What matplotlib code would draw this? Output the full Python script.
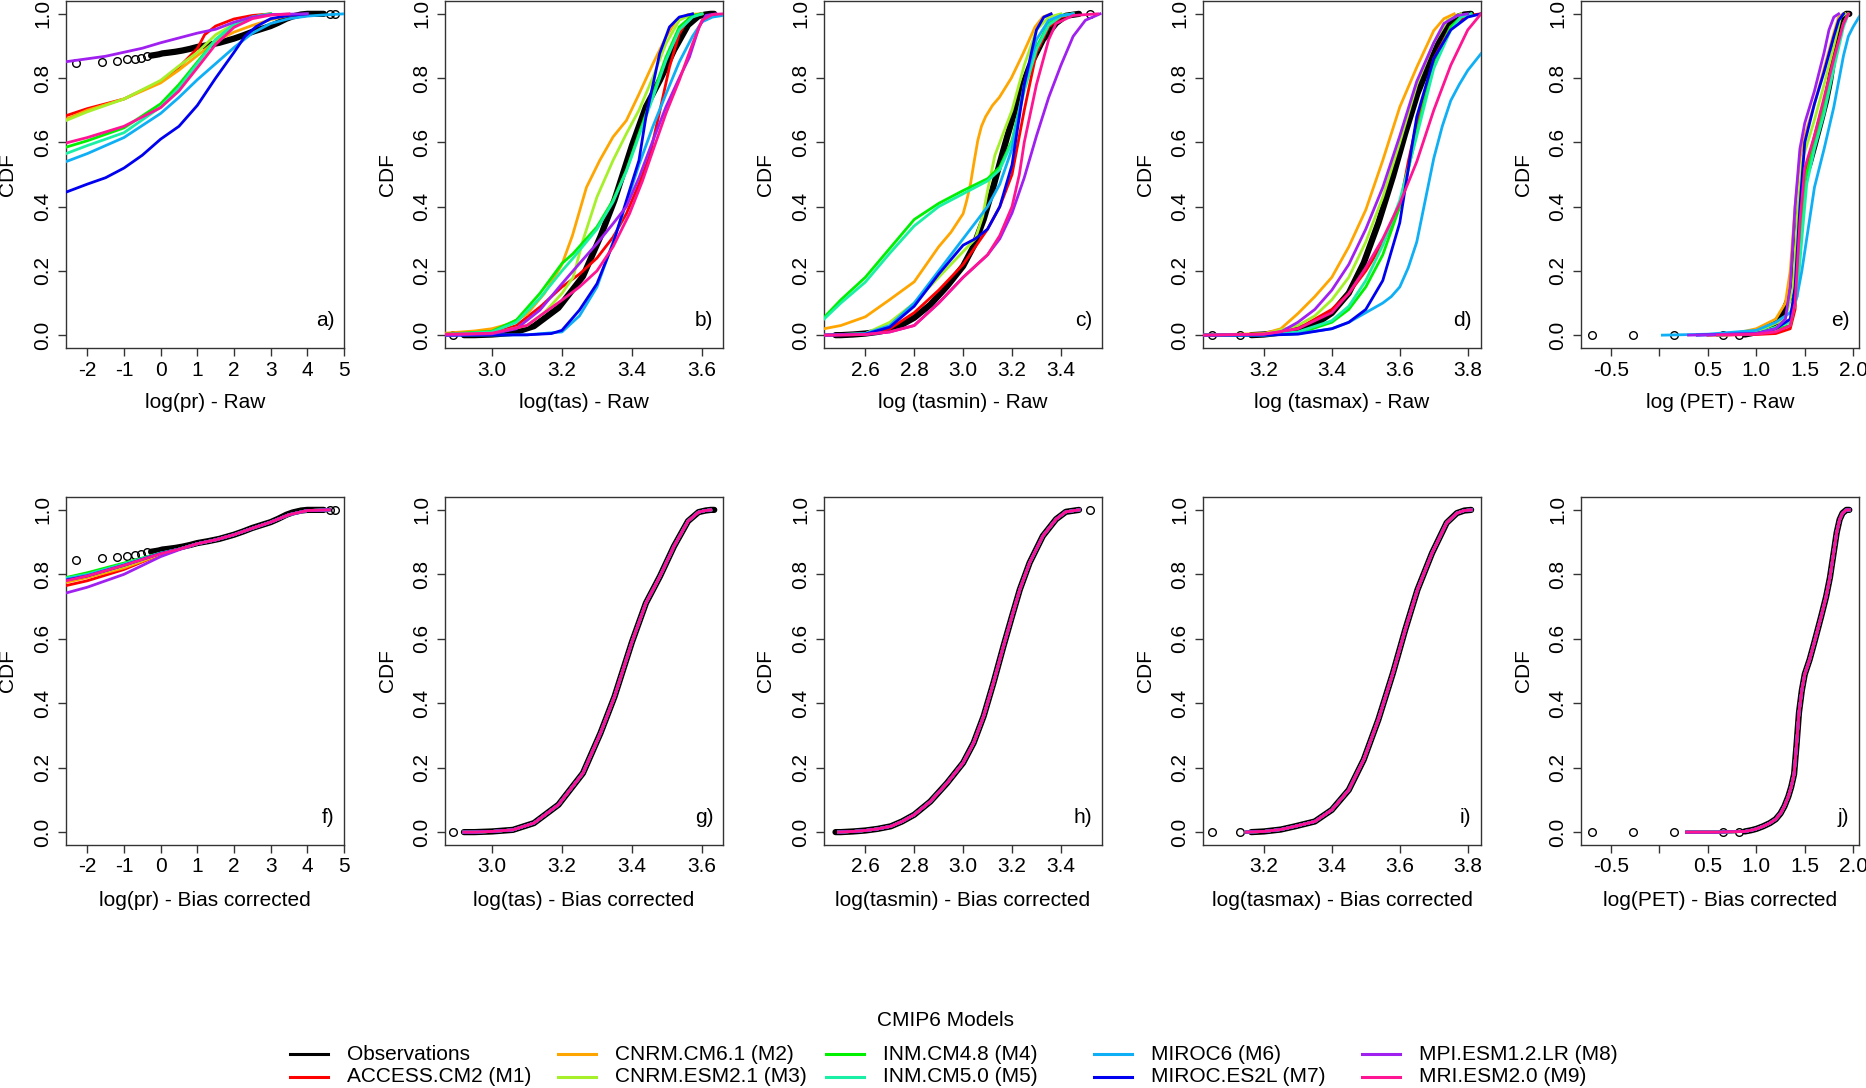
import matplotlib
matplotlib.use("Agg")
import matplotlib.pyplot as plt
from matplotlib.lines import Line2D

plt.rcParams['font.family'] = ['Liberation Sans', 'DejaVu Sans']
plt.rcParams['axes.unicode_minus'] = False

# ---------------- data ----------------
codes = ["M1", "M2", "M3", "M4", "M5", "M6", "M7", "M8", "M9"]
model_names = ["ACCESS.CM2 (M1)", "CNRM.CM6.1 (M2)", "CNRM.ESM2.1 (M3)", "INM.CM4.8 (M4)",
               "INM.CM5.0 (M5)", "MIROC6 (M6)", "MIROC.ES2L (M7)", "MPI.ESM1.2.LR (M8)",
               "MRI.ESM2.0 (M9)"]
obs_name = "Observations"

# Observations (isolated circles, and the dense part of the empirical CDF)
obs_pr_tail_x = [-2.3, -1.6, -1.2, -0.91, -0.7, -0.53, -0.38, 4.62, 4.75]
obs_pr_tail_y = [0.846, 0.851, 0.854, 0.858, 0.861, 0.864, 0.868, 1.0, 1.0]
obs_pr_x = [-0.26, -0.15, -0.05, 0.05, 0.2, 0.4, 0.6, 0.8, 1.0, 1.3, 1.6, 2.0, 2.25, 2.5,
            2.75, 3.0, 3.2, 3.43, 3.6, 3.83, 4.0, 4.2, 4.45]
obs_pr_y = [0.870, 0.872, 0.874, 0.877, 0.879, 0.882, 0.886, 0.891, 0.897, 0.903, 0.91, 0.923,
            0.933, 0.944, 0.953, 0.962, 0.972, 0.985, 0.992, 0.998, 1.0, 1.0, 1.0]

obs_tas_tail_x = [2.89]
obs_tas_tail_y = [0.0]
obs_tas_x = [2.92, 2.95, 3.0, 3.06, 3.12, 3.19, 3.26, 3.31, 3.35, 3.40, 3.44, 3.48, 3.52,
             3.56, 3.59, 3.61, 3.625, 3.635]
obs_tas_y = [0.0, 0.0, 0.002, 0.007, 0.028, 0.085, 0.183, 0.307, 0.42, 0.59, 0.711, 0.794,
             0.887, 0.965, 0.993, 0.998, 1.0, 1.0]

obs_tasmin_tail_x = [3.52]
obs_tasmin_tail_y = [1.0]
obs_tasmin_x = [2.478, 2.5, 2.55, 2.6, 2.65, 2.704, 2.75, 2.8, 2.866, 2.934, 3.0, 3.043, 3.084,
                3.124, 3.165, 3.2, 3.232, 3.272, 3.326, 3.38, 3.42, 3.474]
obs_tasmin_y = [0.0, 0.0, 0.002, 0.005, 0.01, 0.018, 0.033, 0.054, 0.095, 0.152, 0.215, 0.277,
                0.36, 0.463, 0.577, 0.67, 0.753, 0.836, 0.919, 0.971, 0.994, 1.0]

obs_tasmax_tail_x = [3.047, 3.13]
obs_tasmax_tail_y = [0.0, 0.0]
obs_tasmax_x = [3.163, 3.2, 3.25, 3.292, 3.35, 3.4, 3.45, 3.494, 3.537, 3.58, 3.616, 3.652,
                3.695, 3.738, 3.768, 3.79, 3.81]
obs_tasmax_y = [0.0, 0.002, 0.008, 0.018, 0.033, 0.069, 0.131, 0.225, 0.349, 0.494, 0.628,
                0.752, 0.866, 0.96, 0.99, 0.998, 1.0]

obs_pet_tail_x = [-0.70, -0.27, 0.15, 0.66, 0.82]
obs_pet_tail_y = [0.0, 0.0, 0.0, 0.0, 0.0]
obs_pet_x = [0.88, 0.95, 1.0, 1.07, 1.14, 1.2, 1.25, 1.29, 1.33, 1.36, 1.39, 1.415, 1.44, 1.47,
             1.5, 1.55, 1.6, 1.67, 1.72, 1.76, 1.8, 1.83, 1.86, 1.89, 1.93, 1.96]
obs_pet_y = [0.002, 0.006, 0.01, 0.018, 0.028, 0.04, 0.058, 0.08, 0.11, 0.14, 0.18, 0.27, 0.37,
             0.44, 0.49, 0.535, 0.59, 0.67, 0.73, 0.79, 0.87, 0.93, 0.97, 0.99, 1.0, 1.0]

# Raw model CDFs
pr_raw = {
    "M1": ([-2.58, -2, -1, 0, 0.5, 1, 1.2, 1.5, 2, 2.5, 3],
           [0.683, 0.705, 0.735, 0.79, 0.834, 0.892, 0.935, 0.962, 0.984, 0.995, 1.0]),
    "M2": ([-2.58, -2, -1, 0, 0.5, 1, 1.5, 2, 2.5, 3, 3.5, 4],
           [0.672, 0.70, 0.735, 0.785, 0.825, 0.87, 0.915, 0.943, 0.964, 0.982, 0.995, 1.0]),
    "M3": ([-2.58, -2, -1, 0, 0.5, 1, 1.5, 2, 2.5, 3],
           [0.668, 0.695, 0.735, 0.793, 0.838, 0.88, 0.935, 0.968, 0.99, 1.0]),
    "M4": ([-2.58, -2, -1, 0, 0.5, 1, 1.5, 2, 2.5, 3],
           [0.585, 0.605, 0.645, 0.72, 0.78, 0.85, 0.92, 0.965, 0.99, 1.0]),
    "M5": ([-2.58, -2, -1, 0, 0.5, 1, 1.5, 2, 2.5, 3],
           [0.565, 0.59, 0.63, 0.71, 0.77, 0.845, 0.92, 0.968, 0.99, 1.0]),
    "M6": ([-2.58, -2, -1, 0, 0.5, 1, 1.5, 2, 2.5, 3, 3.5, 4, 4.5, 5.0],
           [0.54, 0.565, 0.615, 0.69, 0.74, 0.795, 0.845, 0.895, 0.94, 0.97, 0.985, 0.993, 0.997, 1.0]),
    "M7": ([-2.58, -2, -1.5, -1, -0.5, 0, 0.5, 1, 1.5, 2, 2.3, 2.6, 3, 3.5, 4],
           [0.445, 0.47, 0.49, 0.52, 0.56, 0.61, 0.65, 0.715, 0.8, 0.88, 0.93, 0.96, 0.985, 0.995, 1.0]),
    "M8": ([-2.58, -1.5, -0.5, 0, 0.5, 1, 1.5, 2, 2.5, 3, 4],
           [0.851, 0.868, 0.893, 0.91, 0.925, 0.94, 0.952, 0.974, 0.99, 0.998, 1.0]),
    "M9": ([-2.58, -2, -1, 0, 0.5, 1, 1.5, 2, 2.5, 3, 3.5],
           [0.598, 0.615, 0.65, 0.708, 0.76, 0.832, 0.905, 0.958, 0.985, 0.996, 1.0]),
}

tas_raw = {
    "M1": ([2.866, 3.0, 3.07, 3.14, 3.2, 3.25, 3.3, 3.346, 3.384, 3.42, 3.45, 3.48, 3.507, 3.535, 3.564, 3.6],
           [0.0, 0.005, 0.03, 0.09, 0.15, 0.19, 0.24, 0.305, 0.378, 0.47, 0.555, 0.70, 0.834, 0.938, 0.99, 1.0]),
    "M2": ([2.866, 2.95, 3.0, 3.05, 3.1, 3.15, 3.2, 3.23, 3.27, 3.308, 3.346, 3.384, 3.42, 3.46, 3.497, 3.526, 3.56, 3.6],
           [0.006, 0.013, 0.02, 0.035, 0.065, 0.13, 0.22, 0.31, 0.46, 0.544, 0.617, 0.668, 0.75, 0.845, 0.927, 0.98, 0.998, 1.0]),
    "M3": ([2.866, 3.0, 3.1, 3.15, 3.2, 3.232, 3.26, 3.3, 3.346, 3.384, 3.42, 3.46, 3.497, 3.535, 3.573],
           [0.0, 0.005, 0.03, 0.07, 0.13, 0.18, 0.295, 0.43, 0.544, 0.627, 0.70, 0.803, 0.907, 0.98, 1.0]),
    "M4": ([2.866, 3.0, 3.07, 3.137, 3.2, 3.232, 3.3, 3.346, 3.384, 3.42, 3.46, 3.497, 3.535, 3.573, 3.6],
           [0.003, 0.012, 0.047, 0.13, 0.223, 0.254, 0.337, 0.42, 0.513, 0.627, 0.75, 0.865, 0.959, 0.995, 1.0]),
    "M5": ([2.866, 3.0, 3.07, 3.137, 3.2, 3.232, 3.3, 3.346, 3.384, 3.42, 3.46, 3.497, 3.535, 3.573, 3.6],
           [0.002, 0.01, 0.04, 0.115, 0.2, 0.24, 0.33, 0.415, 0.51, 0.62, 0.74, 0.855, 0.95, 0.99, 1.0]),
    "M6": ([2.866, 3.1, 3.2, 3.25, 3.3, 3.346, 3.384, 3.42, 3.46, 3.497, 3.535, 3.573, 3.6, 3.63, 3.66],
           [0.0, 0.001, 0.01, 0.06, 0.15, 0.29, 0.41, 0.53, 0.65, 0.75, 0.85, 0.93, 0.975, 0.99, 0.995]),
    "M7": ([2.866, 3.1, 3.17, 3.2, 3.25, 3.3, 3.346, 3.393, 3.42, 3.44, 3.46, 3.479, 3.507, 3.535, 3.573],
           [0.0, 0.001, 0.005, 0.015, 0.078, 0.16, 0.285, 0.45, 0.544, 0.68, 0.78, 0.876, 0.959, 0.99, 1.0]),
    "M8": ([2.866, 3.0, 3.07, 3.137, 3.2, 3.25, 3.3, 3.346, 3.384, 3.42, 3.46, 3.497, 3.535, 3.564, 3.592, 3.611, 3.64],
           [0.0, 0.004, 0.02, 0.078, 0.16, 0.223, 0.285, 0.347, 0.4, 0.49, 0.606, 0.71, 0.80, 0.865, 0.96, 0.995, 1.0]),
    "M9": ([2.866, 3.0, 3.1, 3.15, 3.2, 3.25, 3.3, 3.346, 3.393, 3.43, 3.46, 3.497, 3.535, 3.573, 3.6, 3.63, 3.66],
           [0.003, 0.006, 0.03, 0.07, 0.109, 0.15, 0.2, 0.275, 0.378, 0.48, 0.575, 0.69, 0.793, 0.907, 0.98, 0.998, 1.0]),
}

tasmin_raw = {
    "M1": ([2.431, 2.6, 2.7, 2.8, 2.9, 3.0, 3.1, 3.15, 3.2, 3.25, 3.3, 3.35, 3.4, 3.45],
           [0.0, 0.002, 0.02, 0.07, 0.14, 0.22, 0.33, 0.40, 0.50, 0.70, 0.88, 0.96, 0.99, 1.0]),
    "M2": ([2.431, 2.5, 2.6, 2.697, 2.8, 2.9, 2.95, 3.0, 3.015, 3.03, 3.045, 3.06, 3.075, 3.092, 3.12,
            3.148, 3.197, 3.245, 3.294, 3.326, 3.358],
           [0.02, 0.03, 0.057, 0.109, 0.166, 0.275, 0.32, 0.378, 0.42, 0.47, 0.54, 0.606, 0.65, 0.68, 0.715,
            0.74, 0.80, 0.876, 0.959, 0.99, 1.0]),
    "M3": ([2.431, 2.6, 2.7, 2.8, 2.9, 3.0, 3.05, 3.08, 3.1, 3.13, 3.17, 3.2, 3.25, 3.3, 3.35, 3.4],
           [0.0, 0.005, 0.04, 0.1, 0.18, 0.26, 0.30, 0.37, 0.45, 0.56, 0.64, 0.70, 0.84, 0.95, 0.99, 1.0]),
    "M4": ([2.431, 2.5, 2.6, 2.7, 2.8, 2.9, 3.0, 3.1, 3.15, 3.2, 3.25, 3.3, 3.35, 3.4, 3.45],
           [0.055, 0.11, 0.18, 0.27, 0.36, 0.41, 0.45, 0.487, 0.523, 0.606, 0.77, 0.896, 0.97, 0.995, 1.0]),
    "M5": ([2.431, 2.5, 2.6, 2.7, 2.8, 2.9, 3.0, 3.1, 3.15, 3.2, 3.25, 3.3, 3.35, 3.4, 3.45],
           [0.05, 0.10, 0.165, 0.255, 0.34, 0.40, 0.44, 0.48, 0.515, 0.60, 0.76, 0.89, 0.965, 0.993, 1.0]),
    "M6": ([2.431, 2.6, 2.7, 2.8, 2.9, 3.0, 3.1, 3.15, 3.2, 3.25, 3.3, 3.35, 3.4, 3.45],
           [0.0, 0.005, 0.03, 0.1, 0.2, 0.30, 0.40, 0.47, 0.58, 0.78, 0.92, 0.98, 0.995, 1.0]),
    "M7": ([2.431, 2.6, 2.7, 2.8, 2.9, 3.0, 3.05, 3.1, 3.15, 3.2, 3.25, 3.3, 3.33, 3.36],
           [0.0, 0.003, 0.025, 0.09, 0.19, 0.28, 0.30, 0.33, 0.40, 0.53, 0.78, 0.95, 0.99, 1.0]),
    "M8": ([2.431, 2.6, 2.7, 2.8, 2.9, 3.0, 3.1, 3.15, 3.2, 3.25, 3.3, 3.35, 3.4, 3.45, 3.5, 3.56],
           [0.0, 0.002, 0.01, 0.03, 0.1, 0.18, 0.25, 0.30, 0.38, 0.49, 0.62, 0.74, 0.84, 0.93, 0.98, 1.0]),
    "M9": ([2.431, 2.6, 2.7, 2.8, 2.9, 3.0, 3.1, 3.15, 3.2, 3.23, 3.25, 3.3, 3.35, 3.38, 3.45, 3.55],
           [0.0, 0.002, 0.01, 0.03, 0.1, 0.18, 0.25, 0.31, 0.40, 0.50, 0.60, 0.78, 0.92, 0.97, 0.995, 1.0]),
}

tasmax_raw = {
    "M1": ([3.021, 3.2, 3.3, 3.4, 3.45, 3.5, 3.55, 3.6, 3.625, 3.65, 3.7, 3.75, 3.8, 3.839],
           [0.0, 0.003, 0.02, 0.08, 0.13, 0.2, 0.285, 0.40, 0.54, 0.66, 0.86, 0.96, 0.995, 1.0]),
    "M2": ([3.021, 3.2, 3.25, 3.3, 3.35, 3.4, 3.45, 3.5, 3.55, 3.6, 3.65, 3.7, 3.73, 3.76],
           [0.0, 0.005, 0.02, 0.067, 0.12, 0.18, 0.275, 0.39, 0.544, 0.71, 0.834, 0.948, 0.985, 1.0]),
    "M3": ([3.021, 3.2, 3.3, 3.35, 3.4, 3.45, 3.5, 3.55, 3.6, 3.65, 3.7, 3.74, 3.78],
           [0.0, 0.003, 0.03, 0.06, 0.11, 0.18, 0.29, 0.43, 0.60, 0.78, 0.91, 0.98, 1.0]),
    "M4": ([3.021, 3.2, 3.3, 3.4, 3.45, 3.5, 3.55, 3.6, 3.65, 3.7, 3.75, 3.78, 3.81],
           [0.0, 0.0, 0.005, 0.04, 0.08, 0.15, 0.25, 0.40, 0.63, 0.85, 0.96, 0.99, 1.0]),
    "M5": ([3.021, 3.2, 3.3, 3.4, 3.45, 3.5, 3.55, 3.6, 3.65, 3.7, 3.75, 3.78, 3.81],
           [0.0, 0.001, 0.01, 0.045, 0.09, 0.17, 0.28, 0.42, 0.62, 0.83, 0.95, 0.99, 1.0]),
    "M6": ([3.021, 3.2, 3.3, 3.4, 3.45, 3.5, 3.55, 3.575, 3.6, 3.625, 3.65, 3.675, 3.7, 3.725, 3.75,
            3.775, 3.8, 3.839],
           [0.0, 0.0, 0.005, 0.02, 0.04, 0.07, 0.10, 0.12, 0.15, 0.21, 0.29, 0.42, 0.55, 0.65, 0.73,
            0.78, 0.824, 0.876]),
    "M7": ([3.021, 3.2, 3.3, 3.4, 3.45, 3.5, 3.55, 3.6, 3.63, 3.65, 3.7, 3.75, 3.8, 3.839],
           [0.0, 0.0, 0.003, 0.02, 0.04, 0.08, 0.17, 0.35, 0.55, 0.68, 0.86, 0.95, 0.99, 1.0]),
    "M8": ([3.021, 3.2, 3.25, 3.3, 3.35, 3.4, 3.45, 3.5, 3.55, 3.6, 3.65, 3.7, 3.73, 3.77, 3.8],
           [0.0, 0.003, 0.01, 0.04, 0.08, 0.14, 0.22, 0.33, 0.46, 0.62, 0.79, 0.91, 0.97, 0.995, 1.0]),
    "M9": ([3.021, 3.2, 3.3, 3.4, 3.45, 3.5, 3.55, 3.6, 3.65, 3.7, 3.75, 3.8, 3.839],
           [0.0, 0.003, 0.02, 0.07, 0.13, 0.21, 0.30, 0.41, 0.54, 0.70, 0.84, 0.95, 1.0]),
}

pet_raw = {
    "M1": ([0.5, 1.0, 1.2, 1.35, 1.4, 1.45, 1.5, 1.6, 1.7, 1.8, 1.9, 1.95],
           [0.0, 0.002, 0.005, 0.02, 0.08, 0.3, 0.5, 0.62, 0.73, 0.86, 0.97, 1.0]),
    "M2": ([0.7, 1.0, 1.2, 1.3, 1.35, 1.4, 1.45, 1.5, 1.6, 1.7, 1.8, 1.85, 1.9],
           [0.0, 0.02, 0.05, 0.1, 0.2, 0.4, 0.55, 0.62, 0.72, 0.83, 0.94, 0.99, 1.0]),
    "M3": ([0.6, 1.0, 1.3, 1.38, 1.43, 1.48, 1.6, 1.7, 1.8, 1.87, 1.92],
           [0.0, 0.01, 0.05, 0.15, 0.4, 0.55, 0.67, 0.78, 0.9, 0.99, 1.0]),
    "M4": ([0.6, 1.0, 1.35, 1.4, 1.45, 1.5, 1.6, 1.7, 1.8, 1.9, 1.95],
           [0.0, 0.005, 0.03, 0.1, 0.3, 0.48, 0.6, 0.72, 0.85, 0.97, 1.0]),
    "M5": ([0.6, 1.0, 1.35, 1.42, 1.47, 1.52, 1.6, 1.7, 1.8, 1.9, 1.95],
           [0.0, 0.005, 0.04, 0.12, 0.3, 0.47, 0.58, 0.69, 0.83, 0.96, 1.0]),
    "M6": ([0.03, 0.5, 1.0, 1.2, 1.35, 1.42, 1.47, 1.53, 1.6, 1.7, 1.8, 1.9, 1.95, 2.0, 2.06],
           [0.0, 0.003, 0.015, 0.04, 0.07, 0.12, 0.2, 0.32, 0.46, 0.58, 0.71, 0.87, 0.93, 0.96, 0.99]),
    "M7": ([0.39, 1.0, 1.2, 1.35, 1.4, 1.45, 1.5, 1.6, 1.7, 1.8, 1.85, 1.9],
           [0.0, 0.005, 0.02, 0.05, 0.15, 0.4, 0.6, 0.72, 0.82, 0.93, 0.98, 1.0]),
    "M8": ([0.3, 1.0, 1.2, 1.3, 1.35, 1.4, 1.45, 1.5, 1.6, 1.7, 1.75, 1.8, 1.85],
           [0.0, 0.005, 0.02, 0.05, 0.15, 0.4, 0.58, 0.66, 0.76, 0.88, 0.95, 0.99, 1.0]),
    "M9": ([0.6, 1.0, 1.2, 1.35, 1.4, 1.45, 1.5, 1.6, 1.7, 1.8, 1.9, 1.95],
           [0.0, 0.003, 0.01, 0.03, 0.1, 0.35, 0.52, 0.62, 0.74, 0.86, 0.97, 1.0]),
}

# Bias corrected model CDFs
pr_bc_x = [-2.58, -2, -1, 0, 0.5, 1, 1.5, 2, 2.5, 3, 3.5, 4, 4.6]
pr_bc = {
    "M1": [0.765, 0.78, 0.815, 0.862, 0.878, 0.895, 0.907, 0.923, 0.943, 0.962, 0.985, 0.998, 1.0],
    "M2": [0.775, 0.79, 0.82, 0.862, 0.878, 0.895, 0.907, 0.923, 0.943, 0.962, 0.985, 0.998, 1.0],
    "M3": [0.78, 0.795, 0.825, 0.864, 0.878, 0.895, 0.907, 0.923, 0.943, 0.962, 0.985, 0.998, 1.0],
    "M4": [0.79, 0.805, 0.835, 0.866, 0.878, 0.895, 0.907, 0.923, 0.943, 0.962, 0.985, 0.998, 1.0],
    "M5": [0.788, 0.80, 0.832, 0.866, 0.878, 0.895, 0.907, 0.923, 0.943, 0.962, 0.985, 0.998, 1.0],
    "M6": [0.785, 0.798, 0.83, 0.865, 0.878, 0.895, 0.907, 0.923, 0.943, 0.962, 0.985, 0.998, 1.0],
    "M7": [0.782, 0.795, 0.828, 0.865, 0.878, 0.895, 0.907, 0.923, 0.943, 0.962, 0.985, 0.998, 1.0],
    "M8": [0.742, 0.76, 0.80, 0.855, 0.876, 0.895, 0.907, 0.923, 0.943, 0.962, 0.985, 0.998, 1.0],
    "M9": [0.78, 0.795, 0.828, 0.864, 0.878, 0.895, 0.907, 0.923, 0.943, 0.962, 0.985, 0.998, 1.0],
}
# after bias correction all models coincide for these variables
tas_bc_x = [2.92, 2.95, 3.0, 3.06, 3.12, 3.19, 3.26, 3.31, 3.35, 3.40, 3.44, 3.48, 3.52, 3.56, 3.59, 3.61, 3.625]
tas_bc_y = [0.0, 0.0, 0.002, 0.007, 0.028, 0.085, 0.183, 0.307, 0.42, 0.59, 0.711, 0.794, 0.887, 0.965, 0.993, 0.998, 1.0]
tasmin_bc_x = [2.49, 2.55, 2.6, 2.65, 2.704, 2.75, 2.8, 2.866, 2.934, 3.0, 3.043, 3.084, 3.124, 3.165, 3.2,
               3.232, 3.272, 3.326, 3.38, 3.42, 3.474]
tasmin_bc_y = [0.0, 0.002, 0.005, 0.01, 0.018, 0.033, 0.054, 0.095, 0.152, 0.215, 0.277, 0.36, 0.463, 0.577,
               0.67, 0.753, 0.836, 0.919, 0.971, 0.994, 1.0]
tasmax_bc_x = [3.148, 3.2, 3.25, 3.292, 3.35, 3.4, 3.45, 3.494, 3.537, 3.58, 3.616, 3.652, 3.695, 3.738,
               3.768, 3.79, 3.81]
tasmax_bc_y = [0.0, 0.002, 0.008, 0.018, 0.033, 0.069, 0.131, 0.225, 0.349, 0.494, 0.628, 0.752, 0.866,
               0.96, 0.99, 0.998, 1.0]
pet_bc_x = [0.28, 0.6, 0.88, 0.95, 1.0, 1.07, 1.14, 1.2, 1.25, 1.29, 1.33, 1.36, 1.39, 1.415, 1.44, 1.47,
            1.5, 1.55, 1.6, 1.67, 1.72, 1.76, 1.8, 1.83, 1.86, 1.89, 1.93, 1.96]
pet_bc_y = [0.0, 0.0, 0.002, 0.006, 0.01, 0.018, 0.028, 0.04, 0.058, 0.08, 0.11, 0.14, 0.18, 0.27, 0.37,
            0.44, 0.49, 0.535, 0.59, 0.67, 0.73, 0.79, 0.87, 0.93, 0.97, 0.99, 1.0, 1.0]

y_ticks = [0.0, 0.2, 0.4, 0.6, 0.8, 1.0]
pr_ticks = [-2, -1, 0, 1, 2, 3, 4, 5]
tas_ticks = [3.0, 3.2, 3.4, 3.6]
tasmin_ticks = [2.6, 2.8, 3.0, 3.2, 3.4]
tasmax_ticks = [3.2, 3.4, 3.6, 3.8]
pet_ticks = [-0.5, 0.0, 0.5, 1.0, 1.5, 2.0]
pet_tick_labels = ["-0.5", "", "0.5", "1.0", "1.5", "2.0"]

# ---------------- style ----------------
colors = {"M1": "#FF0000", "M2": "#FFA500", "M3": "#A6F02A", "M4": "#00F000", "M5": "#1AF0A5",
          "M6": "#0FAFF5", "M7": "#0000F0", "M8": "#A020F0", "M9": "#FF1493"}
FS = 15
W, H = 1866, 1088
col_left = [66, 445, 824, 1203, 1581]
ax_w = 278
row_span = [(1, 348), (497, 845)]

fig = plt.figure(figsize=(W / 100, H / 100), dpi=100)


def make_ax(row, col):
    top, bot = row_span[row]
    return fig.add_axes([col_left[col] / W, 1 - bot / H, ax_w / W, (bot - top) / H])


def style_ax(ax, xlim, xticks, xticklabels, xlabel, letter):
    ax.set_xlim(*xlim)
    ax.set_ylim(-0.04, 1.04)
    ax.set_xticks(xticks)
    ax.set_xticklabels(xticklabels, fontsize=FS)
    ax.set_yticks(y_ticks)
    ax.set_yticklabels([f"{v:.1f}" for v in y_ticks], fontsize=FS, rotation=90, va="center")
    ax.tick_params(axis="both", direction="out", length=6, width=1, color="#333333")
    ax.tick_params(axis="x", pad=3)
    ax.tick_params(axis="y", pad=4)
    for s in ax.spines.values():
        s.set_color("#333333")
        s.set_linewidth(1.0)
    ax.set_xlabel(xlabel, fontsize=FS)
    ax.xaxis.set_label_coords(0.5, -55 / 348)
    ax.xaxis.label.set_va("center")
    ax.set_ylabel("CDF", fontsize=FS)
    ax.yaxis.set_label_coords(-58 / ax_w, 0.5)
    ax.yaxis.label.set_va("center")
    ax.text(0.965, 0.079, letter, transform=ax.transAxes, ha="right", va="center", fontsize=FS)


def draw_obs(ax, tx, ty, dx, dy):
    ax.plot(dx, dy, color="black", lw=4.5, solid_capstyle="round", zorder=2)
    ax.plot(tx, ty, linestyle="none", marker="o", mfc="none", mec="black", ms=5.5, mew=1.0, zorder=2)


obs_sets = {
    "pr": (obs_pr_tail_x, obs_pr_tail_y, obs_pr_x, obs_pr_y),
    "tas": (obs_tas_tail_x, obs_tas_tail_y, obs_tas_x, obs_tas_y),
    "tasmin": (obs_tasmin_tail_x, obs_tasmin_tail_y, obs_tasmin_x, obs_tasmin_y),
    "tasmax": (obs_tasmax_tail_x, obs_tasmax_tail_y, obs_tasmax_x, obs_tasmax_y),
    "pet": (obs_pet_tail_x, obs_pet_tail_y, obs_pet_x, obs_pet_y),
}

panels_top = [
    ("pr", pr_raw, (-2.58, 5.0), pr_ticks, [str(t) for t in pr_ticks], "log(pr) - Raw", "a)"),
    ("tas", tas_raw, (2.866, 3.66), tas_ticks, [f"{t:.1f}" for t in tas_ticks], "log(tas) - Raw", "b)"),
    ("tasmin", tasmin_raw, (2.431, 3.568), tasmin_ticks, [f"{t:.1f}" for t in tasmin_ticks],
     "log (tasmin) - Raw", "c)"),
    ("tasmax", tasmax_raw, (3.021, 3.839), tasmax_ticks, [f"{t:.1f}" for t in tasmax_ticks],
     "log (tasmax) - Raw", "d)"),
    ("pet", pet_raw, (-0.81, 2.06), pet_ticks, pet_tick_labels, "log (PET) - Raw", "e)"),
]

for col, (var, data, xlim, xt, xtl, xlabel, letter) in enumerate(panels_top):
    ax = make_ax(0, col)
    draw_obs(ax, *obs_sets[var])
    for c in codes:
        x, y = data[c]
        ax.plot(x, y, color=colors[c], lw=2.0, zorder=3)
    style_ax(ax, xlim, xt, xtl, xlabel, letter)

bc_common = {
    "tas": (tas_bc_x, tas_bc_y),
    "tasmin": (tasmin_bc_x, tasmin_bc_y),
    "tasmax": (tasmax_bc_x, tasmax_bc_y),
    "pet": (pet_bc_x, pet_bc_y),
}

panels_bot = [
    ("pr", (-2.58, 5.0), pr_ticks, [str(t) for t in pr_ticks], "log(pr) - Bias corrected", "f)"),
    ("tas", (2.866, 3.66), tas_ticks, [f"{t:.1f}" for t in tas_ticks], "log(tas) - Bias corrected", "g)"),
    ("tasmin", (2.431, 3.568), tasmin_ticks, [f"{t:.1f}" for t in tasmin_ticks],
     "log(tasmin) - Bias corrected", "h)"),
    ("tasmax", (3.021, 3.839), tasmax_ticks, [f"{t:.1f}" for t in tasmax_ticks],
     "log(tasmax) - Bias corrected", "i)"),
    ("pet", (-0.81, 2.06), pet_ticks, pet_tick_labels, "log(PET) - Bias corrected", "j)"),
]

for col, (var, xlim, xt, xtl, xlabel, letter) in enumerate(panels_bot):
    ax = make_ax(1, col)
    draw_obs(ax, *obs_sets[var])
    for c in codes:
        if var == "pr":
            x, y = pr_bc_x, pr_bc[c]
        else:
            x, y = bc_common[var]
        ax.plot(x, y, color=colors[c], lw=2.0, zorder=3)
    style_ax(ax, xlim, xt, xtl, xlabel, letter)

# ---------------- legend ----------------
fig.text(946 / W, 1 - 1021 / H, "CMIP6 Models", ha="center", va="center", fontsize=FS)
leg_labels = [obs_name] + model_names
leg_colors = ["black"] + [colors[c] for c in codes]
leg_col_x = [290, 558, 826, 1094, 1362]
leg_row_y = [1054, 1077]
for i, (lab, colr) in enumerate(zip(leg_labels, leg_colors)):
    cx = leg_col_x[i // 2]
    cy = leg_row_y[i % 2]
    fig.add_artist(Line2D([cx / W, (cx + 38) / W], [1 - cy / H, 1 - cy / H],
                          color=colr, lw=2.2, transform=fig.transFigure))
    fig.text((cx + 57) / W, 1 - cy / H, lab, ha="left", va="center", fontsize=FS)

fig.savefig("out.png", dpi=100)
